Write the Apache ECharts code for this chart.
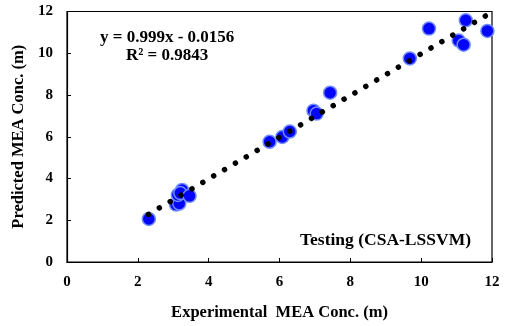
<!DOCTYPE html>
<html>
<head>
<meta charset="utf-8">
<script src="https://cdn.jsdelivr.net/npm/echarts@6/dist/echarts.min.js"></script>
<style>html,body{margin:0;padding:0;background:#fff}#c{width:505px;height:326px}</style>
</head>
<body>
<div id="c"></div>
<script>
// Data
const experimental = [2.31, 3.08, 3.17, 3.13, 3.25, 3.20, 3.46, 5.72, 6.08, 6.29, 6.96, 7.05, 7.43, 9.68, 10.22, 11.06, 11.20, 11.26, 11.87];
const predicted    = [2.06, 2.75, 2.80, 3.21, 3.45, 3.30, 3.17, 5.76, 5.99, 6.25, 7.25, 7.11, 8.11, 9.75, 11.18, 10.61, 10.41, 11.58, 11.07];
const slope = 0.999;
const intercept = -0.0156;
const trendRange = [2.3, 11.85];
const xTicks = [0, 2, 4, 6, 8, 10, 12];
const yTicks = [0, 2, 4, 6, 8, 10, 12];
const eqText = 'y = 0.999x - 0.0156';
const r2Text = 'R² = 0.9843';
const tagText = 'Testing (CSA-LSSVM)';

const scatterData = experimental.map((x, i) => [x, predicted[i]]);
const trendData = trendRange.map(x => [x, slope * x + intercept]);

const font = '"Liberation Serif", "Times New Roman", serif';
const chart = echarts.init(document.getElementById('c'));
chart.setOption({
  animation: false,
  grid: { left: 67, right: 13, top: 11.5, bottom: 55, show: true, borderColor: '#000', borderWidth: 1.2 },
  xAxis: {
    type: 'value', min: xTicks[0], max: xTicks[xTicks.length - 1], interval: 2,
    name: 'Experimental  MEA Conc. (m)', nameLocation: 'middle', nameGap: 42,
    nameTextStyle: { fontFamily: font, fontWeight: 'bold', fontSize: 16.5, color: '#000' },
    axisLine: { show: true, lineStyle: { color: '#000', width: 1.2 } },
    axisTick: { show: true, inside: true, length: 4, lineStyle: { color: '#000' } },
    axisLabel: { fontFamily: font, fontWeight: 'bold', fontSize: 15, color: '#000', margin: 13 },
    splitLine: { show: false }
  },
  yAxis: {
    type: 'value', min: yTicks[0], max: yTicks[yTicks.length - 1], interval: 2,
    name: 'Predicted MEA Conc. (m)', nameLocation: 'middle', nameGap: 38,
    nameTextStyle: { fontFamily: font, fontWeight: 'bold', fontSize: 16.5, color: '#000' },
    axisLine: { show: true, lineStyle: { color: '#000', width: 1.2 } },
    axisTick: { show: true, inside: true, length: 4, lineStyle: { color: '#000' } },
    axisLabel: { fontFamily: font, fontWeight: 'bold', fontSize: 15, color: '#000', margin: 14 },
    splitLine: { show: false }
  },
  series: [
    {
      type: 'scatter', data: scatterData, symbolSize: 13, z: 2,
      itemStyle: { color: '#0505f8', borderColor: '#6f8cff', borderWidth: 1.5, opacity: 1 }
    },
    {
      type: 'line', data: trendData, symbol: 'none', z: 3, silent: true,
      lineStyle: { color: '#000', width: 5.5, type: [0.01, 12.6], cap: 'round' }
    }
  ],
  graphic: [
    { type: 'text', left: 100, top: 29, style: { text: eqText, font: 'bold 17px ' + font, fill: '#000' } },
    { type: 'text', left: 126, top: 47, style: { text: r2Text, font: 'bold 17px ' + font, fill: '#000' } },
    { type: 'text', left: 300, top: 231, style: { text: tagText, font: 'bold 17.5px ' + font, fill: '#000' } }
  ]
});
</script>
</body>
</html>
